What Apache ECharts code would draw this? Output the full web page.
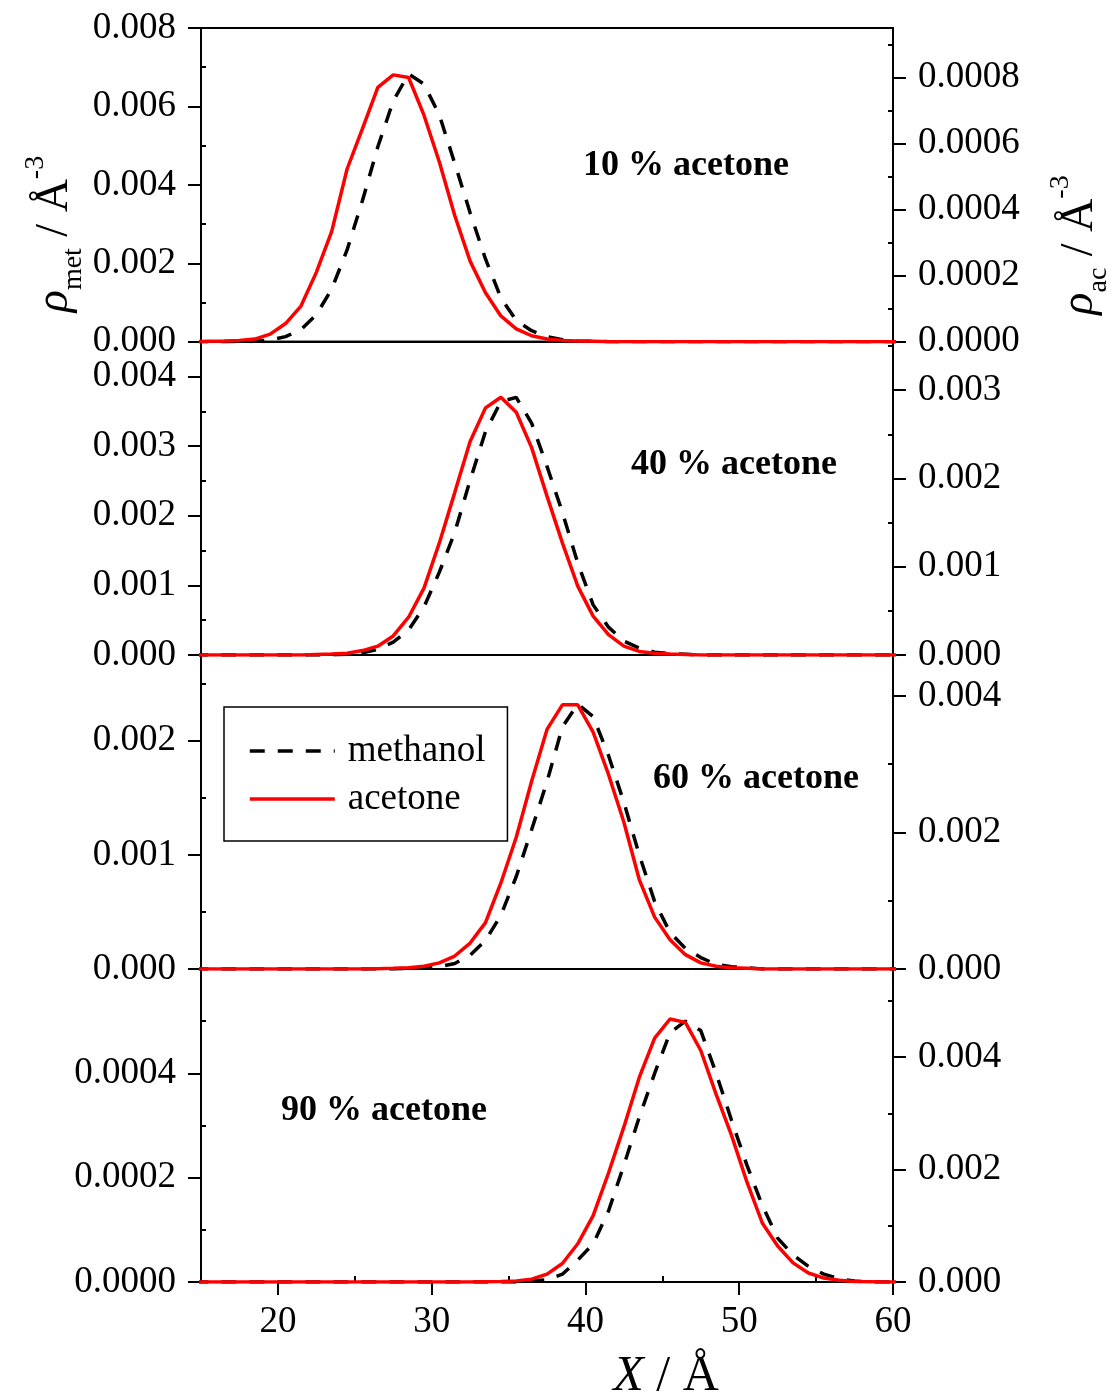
<!DOCTYPE html>
<html><head><meta charset="utf-8">
<script src="https://cdn.jsdelivr.net/npm/echarts@6/dist/echarts.min.js"></script>
<style>html,body{margin:0;padding:0;background:#fff}#c{width:1113px;height:1399px}</style>
</head><body><div id="c"></div>
<script>
// X positions (Å), shared by all panels
const xs = [14.5,15.5,16.5,17.5,18.5,19.5,20.5,21.5,22.5,23.5,24.5,25.5,26.5,27.5,28.5,29.5,30.5,31.5,32.5,33.5,34.5,35.5,36.5,37.5,38.5,39.5,40.5,41.5,42.5,43.5,44.5,45.5,46.5,47.5,48.5,49.5,50.5,51.5,52.5,53.5,54.5,55.5,56.5,57.5,58.5,59.5,60.5];

// 10 % acetone
const met10 = [0,0,0,0.000003,0.00001,0.00004,0.00013,0.00031,0.00069,0.00134,0.00234,0.0036,0.00497,0.00614,0.00683,0.00657,0.00578,0.00455,0.00329,0.00211,0.00112,0.00054,0.00028,0.00013,0.00005,0.00002,0.00001,
  0,0,0,0,0, 0,0,0,0,0, 0,0,0,0,0, 0,0,0,0,0];
const ac10 = [0,0.000001,0.000002,0.000004,0.000008,0.000023,0.000055,0.000108,0.00021,0.000334,0.000523,0.000645,0.00077,0.000808,0.0008,0.000686,0.000544,0.000382,0.000244,0.000148,0.000078,0.000039,0.000018,0.000008,0.000004,0.000002,0.000001,
  0,0,0,0,0, 0,0,0,0,0, 0,0,0,0,0, 0,0,0,0,0];
// 40 % acetone
const met40 = [0,0,0,0,0, 0,0,0,0,
  0.000003,0.00001,0.00003,0.00008,0.000186,0.00036,0.00069,0.00119,0.00176,0.00251,0.00321,0.00364,0.0037,0.00333,0.00271,0.00205,0.00132,0.00072,0.0004,0.0002,0.0001,0.00004,0.00002,0.00001,
  0,0,0,0,0, 0,0,0,0,0, 0,0,0,0];
const ac40 = [0,0,0,0,0, 0,0,0,
  0.000005,0.00001,0.00002,0.00005,0.0001,0.000216,0.000428,0.000758,0.00127,0.00184,0.00242,0.0028,0.00292,0.00275,0.00235,0.0018,0.00127,0.00078,0.00044,0.00023,0.0001,0.00004,0.00002,0.00001,0.000005,
  0,0,0,0,0, 0,0,0,0,0, 0,0,0,0];
// 60 % acetone
const met60 = [0,0,0,0,0, 0,0,0,0,0, 0,0,0,0,
  0.000005,0.00001,0.00002,0.000048,0.00012,0.00025,0.00047,0.00081,0.00122,0.00164,0.00212,0.00232,0.00221,0.00187,0.00146,0.001,0.00059,0.00032,0.00018,0.0001,0.00004,0.00002,0.00001,
  0,0,0,0,0, 0,0,0,0,0];
const ac60 = [0,0,0,0,0, 0,0,0,0,0, 0,0,
  0.000005,0.00001,0.00002,0.00004,0.00009,0.00019,0.00038,0.00068,0.00126,0.00193,0.00275,0.00351,0.00387,0.00387,0.00347,0.00285,0.00215,0.00131,0.00076,0.00043,0.00021,0.00009,0.00004,0.00002,0.00001,
  0,0,0,0,0, 0,0,0,0,0];
// 90 % acetone
const met90 = [0,0,0,0,0, 0,0,0,0,0, 0,0,0,0,0, 0,0,0,0,0, 0,0,
  0.000002,0.000004,0.000015,0.000042,0.000073,0.000136,0.000224,0.000316,0.0004,0.000478,0.0005,0.000482,0.0004,0.00031,0.000224,0.000147,0.000084,0.000052,0.00003,0.000015,0.000006,0.000002,
  0,0,0];
const ac90 = [0,0,0,0,0, 0,0,0,0,0, 0,0,0,0,0, 0,0,0,0,
  0.000005,0.00001,0.00002,0.00005,0.00014,0.00033,0.00068,0.00118,0.00194,0.00276,0.00364,0.00434,0.00468,0.00462,0.00412,0.00334,0.00261,0.00178,0.00105,0.00064,0.00034,0.00016,0.00007,0.00003,0.00001,0.000005,
  0,0];

const methanolSets = [met10, met40, met60, met90];
const acetoneSets = [ac10, ac40, ac60, ac90];
const panelLabels = ['10 % acetone', '40 % acetone', '60 % acetone', '90 % acetone'];

// tick labels
const xTicks = [20, 30, 40, 50, 60];
const xMinor = [25, 35, 45, 55];
const leftTicks = [[0,0.002,0.004,0.006,0.008],[0,0.001,0.002,0.003,0.004],[0,0.001,0.002],[0,0.0002,0.0004]];
const leftMinor = [[0.001,0.003,0.005,0.007],[0.0005,0.0015,0.0025,0.0035],[0.0005,0.0015,0.0025],[0.0001,0.0003,0.0005]];
const rightTicks = [[0,0.0002,0.0004,0.0006,0.0008],[0,0.001,0.002,0.003],[0,0.002,0.004],[0,0.002,0.004]];
const rightMinor = [[0.0001,0.0003,0.0005,0.0007,0.0009],[0.0005,0.0015,0.0025,0.0035],[0.001,0.003],[0.001,0.003,0.005]];
const leftDecimals = [3,3,3,4];
const rightDecimals = [4,3,3,3];
const leftMax = [0.008, 0.0045, 0.00275, 0.0006];
const rightMax = [0.00095, 0.00355, 0.0046, 0.00557];

const FONT = 'Liberation Serif';
const tops = [28, 341.7, 655, 969];
const bottoms = [341.7, 655, 969, 1282];
const labelPos = [[686, 166], [734, 465], [756, 779], [384, 1111]];

const grids = [], xAxes = [], yAxes = [], series = [];
const lineBlack = {color:'#000', width:2};
for (let i = 0; i < 4; i++) {
  grids.push({left:201, width:692, top:tops[i], height:bottoms[i]-tops[i], show:true,
    borderColor:'#000', borderWidth:2, backgroundColor:'transparent', containLabel:false, outerBoundsMode:'none'});
  const last = i === 3;
  xAxes.push({gridIndex:i, type:'value', min:15, max:60, position:'bottom',
    axisLine:{show:true, onZero:false, lineStyle:lineBlack},
    axisTick:{show:last, inside:false, length:13, lineStyle:lineBlack, customValues:xTicks},
    axisLabel:{show:last, customValues:xTicks, margin:22, color:'#000', fontFamily:FONT, fontSize:37},
    splitLine:{show:false}});
  const ld = leftDecimals[i], rd = rightDecimals[i];
  yAxes.push({gridIndex:i, type:'value', min:0, max:leftMax[i], position:'left',
    axisLine:{show:true, onZero:false, lineStyle:lineBlack},
    axisTick:{show:true, inside:false, length:13, lineStyle:lineBlack, customValues:leftTicks[i]},
    axisLabel:{show:true, customValues:leftTicks[i], margin:25, color:'#000', fontFamily:FONT, fontSize:37,
      formatter:v => Number(v).toFixed(ld)},
    splitLine:{show:false}});
  yAxes.push({gridIndex:i, type:'value', min:0, max:leftMax[i], position:'left',
    axisLine:{show:false}, axisTick:{show:true, inside:true, length:5, lineStyle:lineBlack, customValues:leftMinor[i]},
    axisLabel:{show:false}, splitLine:{show:false}});
  yAxes.push({gridIndex:i, type:'value', min:0, max:rightMax[i], position:'right',
    axisLine:{show:true, onZero:false, lineStyle:lineBlack},
    axisTick:{show:true, inside:false, length:13, lineStyle:lineBlack, customValues:rightTicks[i]},
    axisLabel:{show:true, customValues:rightTicks[i], margin:25, color:'#000', fontFamily:FONT, fontSize:37,
      formatter:v => Number(v).toFixed(rd)},
    splitLine:{show:false}});
  yAxes.push({gridIndex:i, type:'value', min:0, max:rightMax[i], position:'right',
    axisLine:{show:false}, axisTick:{show:true, inside:true, length:5, lineStyle:lineBlack, customValues:rightMinor[i]},
    axisLabel:{show:false}, splitLine:{show:false}});
  series.push({name:'methanol', type:'line', xAxisIndex:i, yAxisIndex:4*i, symbol:'none', z:2,
    lineStyle:{color:'#000', width:3.5, type:[15,13]}, itemStyle:{color:'#000'},
    data: xs.map((x, j) => [x, methanolSets[i][j]])});
  series.push({name:'acetone', type:'line', xAxisIndex:i, yAxisIndex:4*i+2, symbol:'none', z:3,
    lineStyle:{color:'#ff0000', width:3.5, type:'solid'}, itemStyle:{color:'#ff0000'},
    data: xs.map((x, j) => [x, acetoneSets[i][j]])});
}
xAxes.push({gridIndex:3, type:'value', min:15, max:60, position:'bottom',
  axisLine:{show:false}, axisTick:{show:true, inside:true, length:6, lineStyle:lineBlack, customValues:xMinor},
  axisLabel:{show:false}, splitLine:{show:false}});

const graphics = panelLabels.map((t, i) => ({type:'text', x:labelPos[i][0], y:labelPos[i][1], z:10,
  style:{text:t, fontFamily:FONT, fontWeight:'bold', fontSize:36, fill:'#000', align:'center', verticalAlign:'middle'}}));
graphics.push({type:'text', x:666, y:1377, z:10,
  style:{text:'{i|X}{n| / Å}', align:'center', verticalAlign:'middle', fill:'#000',
    rich:{i:{fontFamily:FONT, fontStyle:'italic', fontSize:50, fill:'#000'}, n:{fontFamily:FONT, fontSize:50, fill:'#000'}}}});
const titleRich = {
  r:{fontFamily:FONT, fontStyle:'italic', fontSize:46, lineHeight:66, fill:'#000'},
  s:{fontFamily:FONT, fontSize:28, lineHeight:30, verticalAlign:'bottom', fill:'#000'},
  n:{fontFamily:FONT, fontSize:46, lineHeight:66, fill:'#000'},
  p:{fontFamily:FONT, fontSize:28, lineHeight:30, verticalAlign:'top', fill:'#000'}
};
graphics.push({type:'text', x:55, y:234, rotation:Math.PI/2, z:10,
  style:{text:'{r|ρ}{s|met}{n| / Å}{p|-3}', align:'center', verticalAlign:'middle', rich:titleRich}});
graphics.push({type:'text', x:1080, y:245, rotation:Math.PI/2, z:10,
  style:{text:'{r|ρ}{s|ac}{n| / Å}{p|-3}', align:'center', verticalAlign:'middle', rich:titleRich}});

const chart = echarts.init(document.getElementById('c'), null, {renderer:'canvas'});
chart.setOption({
  animation:false,
  backgroundColor:'#fff',
  grid:grids, xAxis:xAxes, yAxis:yAxes, series:series,
  legend:{show:true, data:['methanol','acetone'], orient:'vertical', left:224, top:707,
    padding:[24, 22, 22, 24], itemWidth:85, itemHeight:20, itemGap:8,
    itemStyle:{color:'transparent', borderColor:'transparent', borderWidth:0, opacity:0},
    lineStyle:{width:3.5},
    borderColor:'#000', borderWidth:1.5, borderRadius:0, backgroundColor:'#fff',
    textStyle:{fontFamily:FONT, fontSize:37, color:'#000', lineHeight:40, padding:[0,0,0,8]}},
  graphic:graphics
});
</script></body></html>
